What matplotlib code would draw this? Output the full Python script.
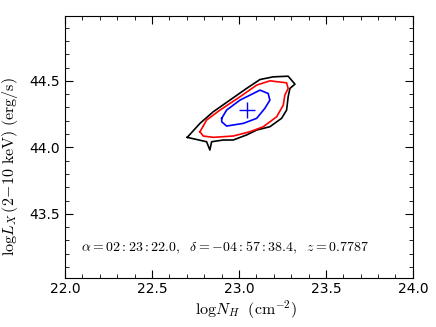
import numpy as np
import matplotlib
matplotlib.use("Agg")
import matplotlib.pyplot as plt
from matplotlib.ticker import MultipleLocator

plt.rcParams["mathtext.fontset"] = "cm"

# confidence contours (log N_H, log L_X)
black_nh = [22.703, 22.776, 22.852, 22.948, 23.044, 23.121, 23.197, 23.283, 23.322,
            23.293, 23.283, 23.274, 23.245, 23.178, 23.102, 23.044, 22.967, 22.910,
            22.843, 22.833, 22.814, 22.703]
black_lx = [44.075, 44.180, 44.267, 44.355, 44.443, 44.510, 44.530, 44.535, 44.475,
            44.443, 44.380, 44.280, 44.218, 44.155, 44.130, 44.093, 44.055, 44.055,
            44.042, 43.980, 44.042, 44.075]

red_nh = [22.776, 22.814, 22.891, 23.006, 23.102, 23.178, 23.274, 23.283, 23.264,
          23.255, 23.217, 23.140, 23.063, 22.967, 22.852, 22.795, 22.776]
red_lx = [44.117, 44.205, 44.280, 44.380, 44.468, 44.500, 44.485, 44.443, 44.393,
          44.318, 44.230, 44.155, 44.117, 44.085, 44.075, 44.085, 44.117]

blue_nh = [22.901, 22.929, 23.006, 23.121, 23.168, 23.178, 23.149, 23.102, 23.025,
           22.929, 22.901, 22.901]
blue_lx = [44.218, 44.280, 44.355, 44.430, 44.405, 44.355, 44.293, 44.218, 44.180,
           44.160, 44.192, 44.218]

best_nh = 23.044
best_lx = 44.28

label = r"$\alpha = 02:23:22.0,\ \ \delta = -04:57:38.4,\ \ z = 0.7787$"

fig = plt.figure(figsize=(4.36, 3.27), dpi=100)
ax = fig.add_axes([0.149, 0.151, 0.798, 0.801])

ax.plot(black_nh, black_lx, color="black", lw=1.2)
ax.plot(red_nh, red_lx, color="red", lw=1.2)
ax.plot(blue_nh, blue_lx, color="blue", lw=1.2)
ax.plot(best_nh, best_lx, "+", color="blue", ms=11, mew=1.0)

ax.text(22.92, 43.245, label, ha="center", va="center", fontsize=10)

ax.set_xlim(22.0, 24.0)
ax.set_ylim(43.02, 44.99)
ax.xaxis.set_major_locator(MultipleLocator(0.5))
ax.xaxis.set_minor_locator(MultipleLocator(0.1))
ax.yaxis.set_major_locator(MultipleLocator(0.5))
ax.yaxis.set_minor_locator(MultipleLocator(0.1))
ax.tick_params(which="both", direction="in", top=True, right=True, labelsize=10)
ax.tick_params(which="major", length=6)
ax.tick_params(which="minor", length=3)

ax.set_xlabel(r"$\mathrm{log}N_H\ \ (\mathrm{cm^{-2}})$", fontsize=11.5)
ax.set_ylabel(r"$\mathrm{log}L_X\,(2\!-\!10\ \mathrm{keV})\ (\mathrm{erg/s})$", fontsize=11.5)
ax.xaxis.set_label_coords(0.52, -0.08)
ax.yaxis.set_label_coords(-0.128, 0.4225)

fig.savefig("out.png", dpi=100)
